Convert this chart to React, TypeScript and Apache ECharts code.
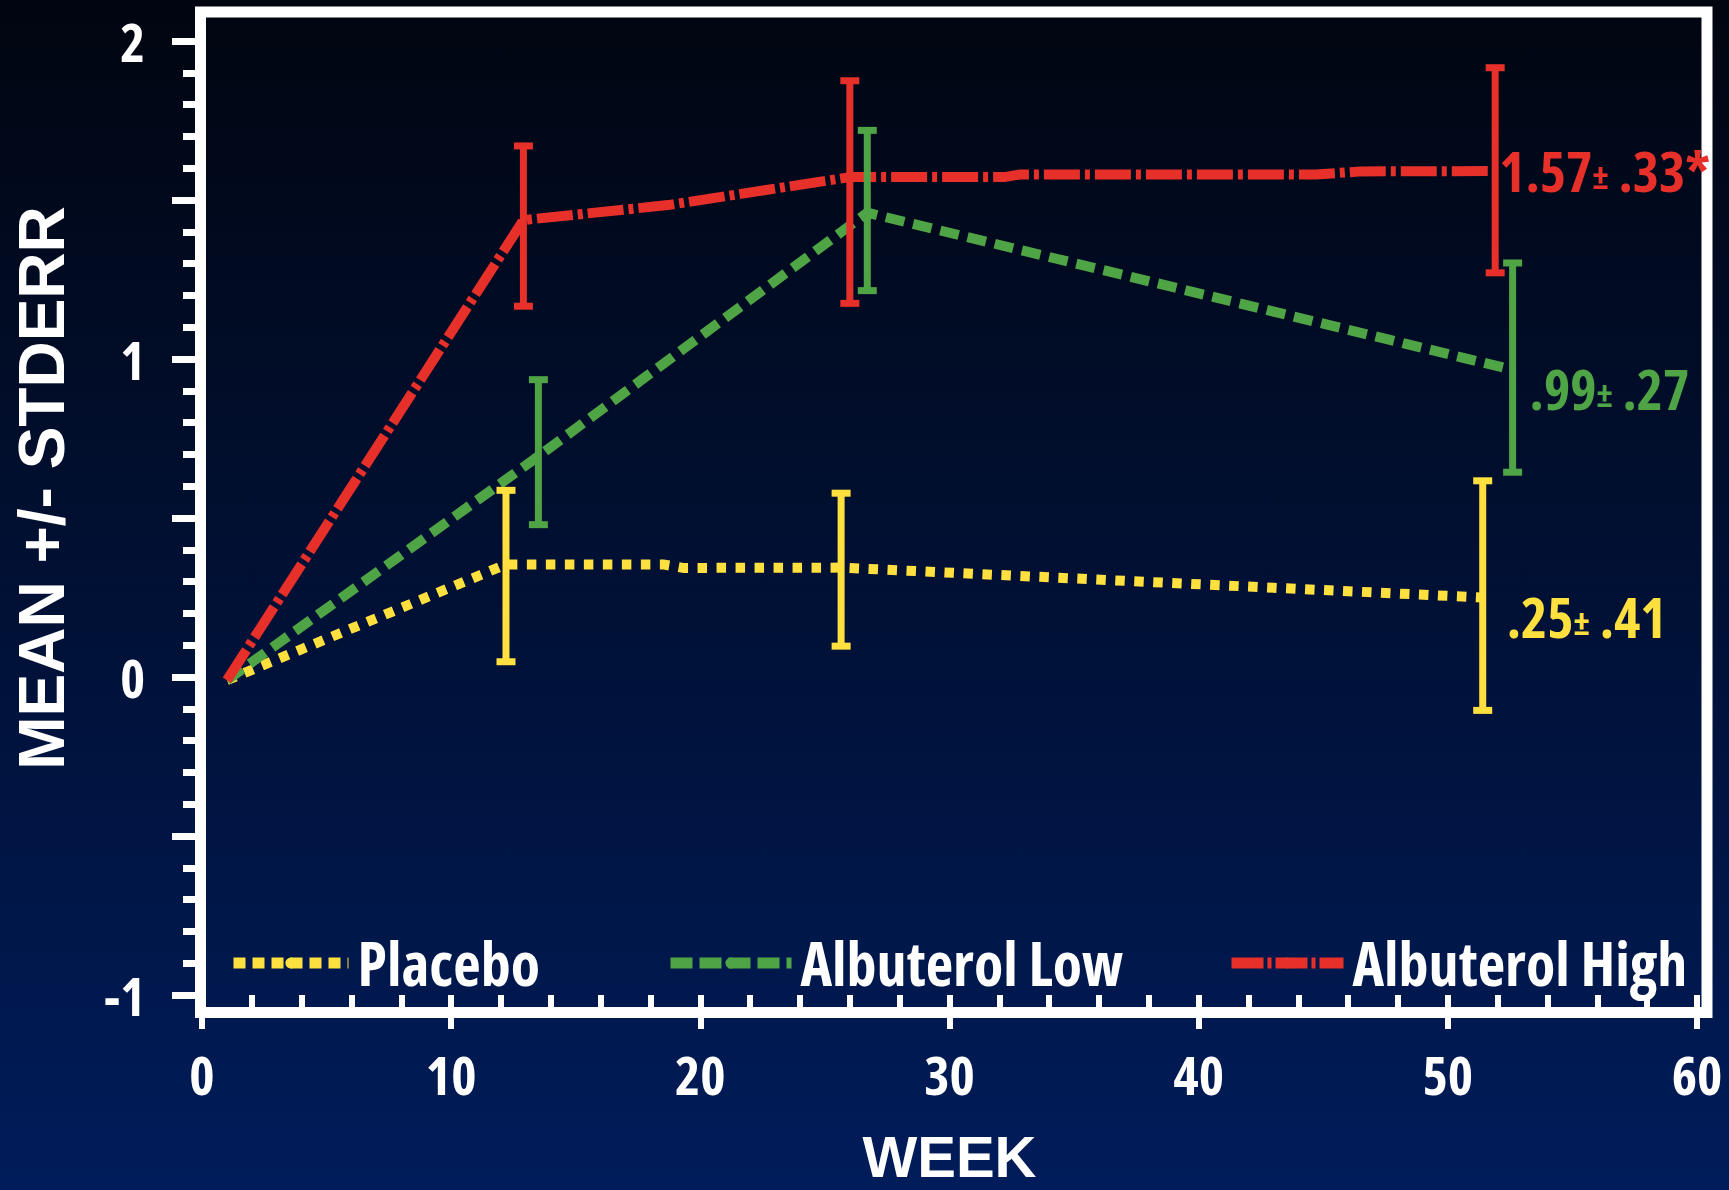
import React, { useEffect, useRef } from 'react';
import * as echarts from 'echarts';

// ---- data ----
const seriesNames = ['Placebo', 'Albuterol Low', 'Albuterol High'];

const placeboWeeks = [1, 12.2, 18.5, 19.3, 25.65, 51.4];
const placeboMeans = [-0.01, 0.354, 0.354, 0.343, 0.344, 0.25];
const lowWeeks = [1, 13.5, 26.7, 52.6];
const lowMeans = [-0.01, 0.694, 1.46, 0.966];
const highWeeks = [1, 12.9, 18.7, 26, 32.2, 32.8, 44.7, 46.5, 51.9];
const highMeans = [-0.01, 1.437, 1.484, 1.572, 1.572, 1.58, 1.58, 1.59, 1.591];

const placeboBarWeeks = [12.2, 25.65, 51.4];
const placeboBarLow = [0.048, 0.097, -0.105];
const placeboBarHigh = [0.587, 0.578, 0.617];
const lowBarWeeks = [13.5, 26.7, 52.6];
const lowBarLow = [0.479, 1.215, 0.644];
const lowBarHigh = [0.935, 1.719, 1.302];
const highBarWeeks = [12.9, 26, 51.9];
const highBarLow = [1.166, 1.175, 1.271];
const highBarHigh = [1.67, 1.875, 1.916];

const endLabelMeans = ['.25', '.99', '1.57'];
const endLabelErrs = [' .41', ' .27', ' .33*'];

const yLabelValues = [-1, 0, 1, 2];
const xTickLabels = ['0', '10', '20', '30', '40', '50', '60'];

const colors = ['#FFE03E', '#4FA546', '#E8302A'];
const COND = "'Open Sans', 'Liberation Sans', sans-serif";
const WIDE = "'Liberation Sans', Arial, sans-serif";

function zip(a: number[], b: number[]) {
  return a.map((v, i) => [v, b[i]]);
}

function errorSeries(name: string, weeks: number[], lows: number[], highs: number[], color: string) {
  return {
    type: 'custom',
    name,
    data: weeks.map((w, i) => [w, lows[i], highs[i]]),
    encode: { x: 0, y: [1, 2] },
    z: 4,
    renderItem: (params: any, api: any) => {
      const x = api.value(0);
      const a = api.coord([x, api.value(2)]);
      const b = api.coord([x, api.value(1)]);
      const hw = 9.5;
      const style = { stroke: color, lineWidth: 7 };
      return {
        type: 'group',
        children: [
          { type: 'line', shape: { x1: a[0], y1: a[1], x2: b[0], y2: b[1] }, style },
          { type: 'line', shape: { x1: a[0] - hw, y1: a[1], x2: a[0] + hw, y2: a[1] }, style },
          { type: 'line', shape: { x1: b[0] - hw, y1: b[1], x2: b[0] + hw, y2: b[1] }, style },
        ],
      };
    },
  };
}

function endLabel(i: number, offset: number[]) {
  return {
    show: true,
    offset,
    distance: 4,
    formatter: `{a|${endLabelMeans[i]}}{b|±}{a|${endLabelErrs[i]}}`,
    rich: {
      a: { color: colors[i], fontFamily: COND, fontWeight: 'bold', fontSize: 56 },
      b: { color: colors[i], fontFamily: COND, fontWeight: 'bold', fontSize: 34, padding: [12, 0, 0, 0] },
    },
  };
}

let platformPatched = false;
function patchMeasure() {
  if (platformPatched) return;
  platformPatched = true;
  const anyEc: any = echarts as any;
  if (typeof anyEc.setPlatformAPI !== 'function') return;
  const ctx: any = document.createElement('canvas').getContext('2d');
  anyEc.setPlatformAPI({
    measureText(text: string, font?: string) {
      ctx.font = font || '12px sans-serif';
      try {
        ctx.fontStretch = font && font.indexOf('Open Sans') >= 0 ? 'condensed' : 'normal';
      } catch (e) {
        /* ignore */
      }
      return ctx.measureText(text);
    },
  });
}

export default function App() {
  const ref = useRef<HTMLDivElement>(null);
  useEffect(() => {
    patchMeasure();
    const chart = echarts.init(ref.current!, null, { renderer: 'svg' });
    const legendBase = {
      top: 933,
      padding: 0,
      itemHeight: 14,
      textStyle: { color: '#fff', fontFamily: COND, fontWeight: 'bold', fontSize: 60, padding: [0, 0, 0, 4] },
      selectedMode: false,
    };
    const option: any = {
      animation: false,
      backgroundColor: 'transparent',
      grid: { left: 202, right: 32, top: 41, bottom: 172, containLabel: false },
      xAxis: {
        type: 'value',
        min: 0,
        max: 60,
        interval: 10,
        axisLine: { show: false, onZero: false },
        axisTick: { show: true, length: 34, lineStyle: { color: '#fff', width: 6 } },
        minorTick: { show: true, splitNumber: 5, length: 19, lineStyle: { color: '#fff', width: 6 } },
        splitLine: { show: false },
        axisLabel: {
          color: '#fff', fontFamily: COND, fontWeight: 'bold', fontSize: 54, margin: 52,
          formatter: (v: number) => xTickLabels[Math.round(v / 10)] ?? '',
        },
        name: 'WEEK',
        nameLocation: 'middle',
        nameGap: 132,
        nameTextStyle: { color: '#fff', fontFamily: WIDE, fontWeight: 'bold', fontSize: 58 },
      },
      yAxis: {
        type: 'value',
        min: -1,
        max: 2,
        interval: 0.5,
        axisLine: { show: false },
        axisTick: { show: true, length: 30, lineStyle: { color: '#fff', width: 7 } },
        minorTick: { show: true, splitNumber: 5, length: 19, lineStyle: { color: '#fff', width: 7 } },
        splitLine: { show: false },
        axisLabel: {
          color: '#fff', fontFamily: COND, fontWeight: 'bold', fontSize: 53, margin: 57,
          formatter: (v: number) => {
            const r = Math.round(v);
            return Math.abs(v - r) < 1e-6 && yLabelValues.includes(r) ? String(r) : '';
          },
        },
      },
      legend: [
        { ...legendBase, left: 228, itemWidth: 115, data: [seriesNames[0]], lineStyle: { width: 11, type: [12, 7] } },
        { ...legendBase, left: 665, itemWidth: 121, data: [seriesNames[1]], lineStyle: { width: 11, type: [22, 7] } },
        { ...legendBase, left: 1226, itemWidth: 112, data: [seriesNames[2]], lineStyle: { width: 11, type: [32, 4, 4, 4] } },
      ],
      graphic: [
        {
          type: 'rect',
          z: 0,
          shape: { x: 200.5, y: 12, width: 1506.5, height: 1000.5 },
          style: { fill: 'none', stroke: '#fff', lineWidth: 11 },
        },
        {
          type: 'text',
          x: 42,
          y: 488,
          rotation: Math.PI / 2,
          style: {
            text: 'MEAN +/- STDERR',
            fill: '#fff',
            font: `bold 64px ${WIDE}`,
            align: 'center',
            verticalAlign: 'middle',
          },
        },
      ],
      series: [
        {
          type: 'line', name: seriesNames[0], data: zip(placeboWeeks, placeboMeans), symbol: 'none', z: 3,
          lineStyle: { color: colors[0], width: 10, type: [9.5, 9.5] }, itemStyle: { color: colors[0] },
          endLabel: endLabel(0, [20, 18]),
        },
        {
          type: 'line', name: seriesNames[1], data: zip(lowWeeks, lowMeans), symbol: 'none', z: 3,
          lineStyle: { color: colors[1], width: 10, type: [19, 9] }, itemStyle: { color: colors[1] },
          endLabel: endLabel(1, [13, 18]),
        },
        {
          type: 'line', name: seriesNames[2], data: zip(highWeeks, highMeans), symbol: 'none', z: 3,
          lineStyle: { color: colors[2], width: 10, type: [36, 5, 5, 5] }, itemStyle: { color: colors[2] },
          endLabel: endLabel(2, [0, -1]),
        },
        errorSeries('Placebo SE', placeboBarWeeks, placeboBarLow, placeboBarHigh, colors[0]),
        errorSeries('Albuterol Low SE', lowBarWeeks, lowBarLow, lowBarHigh, colors[1]),
        errorSeries('Albuterol High SE', highBarWeeks, highBarLow, highBarHigh, colors[2]),
      ],
    };
    chart.setOption(option);
    return () => chart.dispose();
  }, []);
  return (
    <div
      ref={ref}
      style={{
        position: 'fixed',
        left: 0,
        top: 0,
        width: 1729,
        height: 1190,
        fontStretch: 'condensed',
        background: 'linear-gradient(to bottom, #010510 0%, #001C5A 100%)',
      }}
    />
  );
}
